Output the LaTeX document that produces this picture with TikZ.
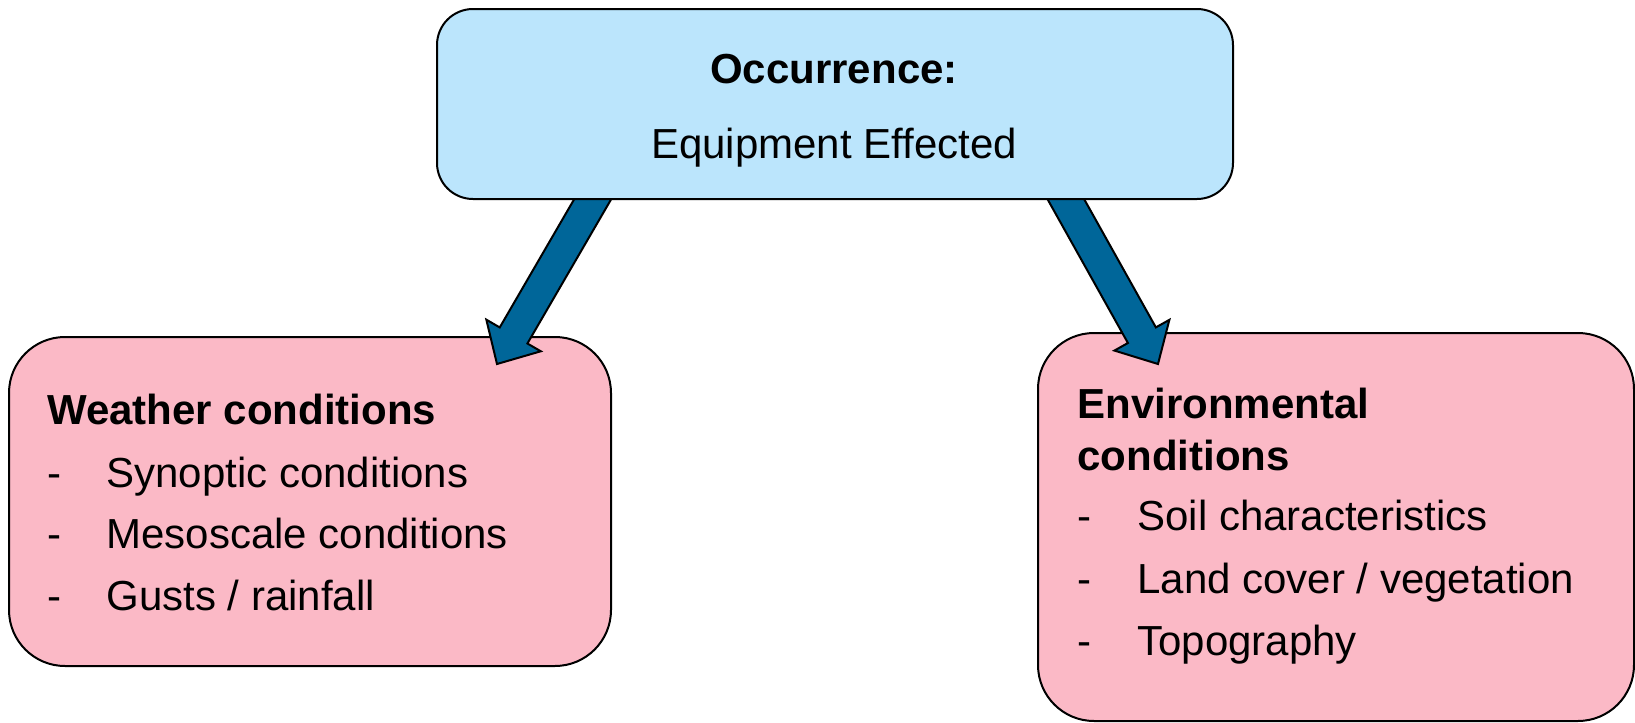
\documentclass[tikz,border=0pt]{standalone}
\usepackage{fontspec}
\setmainfont{Liberation Sans}
\usetikzlibrary{calc}
\definecolor{occblue}{HTML}{BBE5FC}
\definecolor{condpink}{HTML}{FBB9C6}
\definecolor{arrowblue}{HTML}{006699}
\begin{document}
\begin{tikzpicture}[x=0.5pt, y=-0.5pt,
    occbox/.style={draw, line width=1pt, fill=occblue, rounded corners=18pt,
      minimum width=398pt, minimum height=95pt, inner sep=0pt, anchor=north west},
    condbox/.style={draw, line width=1pt, fill=condpink, rounded corners=28pt,
      inner sep=0pt, anchor=north west},
    bigarrow/.style={draw, line width=1pt, fill=arrowblue, line join=miter},
    txt/.style={inner sep=0pt, font=\fontsize{21}{25}\selectfont},
    headtxt/.style={inner sep=0pt, font=\fontsize{21}{25}\selectfont\bfseries}]
    \useasboundingbox (0,0) rectangle (1635,723);
    % Condition boxes
    \node[condbox, minimum width=301pt, minimum height=164.5pt] (weather) at (8,336) {};
    \node[condbox, minimum width=298pt, minimum height=194pt] (env) at (1037,332) {};
    % Arrow to weather conditions
    \coordinate (wtail) at (605,178);
    \coordinate (wtip) at (497,364);
    \coordinate (wneck) at ($(wtip)!16.5pt!(wtail)$);
    \draw[bigarrow] (wtip) -- ($(wneck)!15.75pt!90:(wtail)$) -- ($(wneck)!8pt!90:(wtail)$)
      -- ($(wtail)!8pt!-90:(wtip)$) -- ($(wtail)!8pt!90:(wtip)$)
      -- ($(wneck)!8pt!-90:(wtail)$) -- ($(wneck)!15.75pt!-90:(wtail)$) -- cycle;
    % Arrow to environmental conditions
    \coordinate (etail) at (1054,178);
    \coordinate (etip) at (1158,364);
    \coordinate (eneck) at ($(etip)!16.5pt!(etail)$);
    \draw[bigarrow] (etip) -- ($(eneck)!15.75pt!90:(etail)$) -- ($(eneck)!8pt!90:(etail)$)
      -- ($(etail)!8pt!-90:(etip)$) -- ($(etail)!8pt!90:(etip)$)
      -- ($(eneck)!8pt!-90:(etail)$) -- ($(eneck)!15.75pt!-90:(etail)$) -- cycle;
    % Occurrence box
    \node[occbox] (occ) at (436,8) {};
    \node[headtxt, anchor=base] (occtitle) at (834,83) {Occurrence:};
    \node[txt, anchor=base] (occtext) at (834,158) {Equipment Effected};
    % Weather conditions
    \node[headtxt, anchor=base west] (wtitle) at (47,424) {Weather conditions};
    \node[txt, anchor=base west] (wdasha) at (47,487) {-};
    \node[txt, anchor=base west] (wdashb) at (47,548) {-};
    \node[txt, anchor=base west] (wdashc) at (47,610) {-};
    \node[txt, anchor=base west] (witema) at (106,487) {Synoptic conditions};
    \node[txt, anchor=base west] (witemb) at (106,548) {Mesoscale conditions};
    \node[txt, anchor=base west] (witemc) at (106,610) {Gusts / rainfall};
    % Environmental conditions
    \node[headtxt, anchor=base west] (etitlea) at (1077,418) {Environmental};
    \node[headtxt, anchor=base west] (etitleb) at (1077,470) {conditions};
    \node[txt, anchor=base west] (edasha) at (1077,530) {-};
    \node[txt, anchor=base west] (edashb) at (1077,593) {-};
    \node[txt, anchor=base west] (edashc) at (1077,655) {-};
    \node[txt, anchor=base west] (eitema) at (1137,530) {Soil characteristics};
    \node[txt, anchor=base west] (eitemb) at (1137,593) {Land cover / vegetation};
    \node[txt, anchor=base west] (eitemc) at (1137,655) {Topography};
\end{tikzpicture}
\end{document}
